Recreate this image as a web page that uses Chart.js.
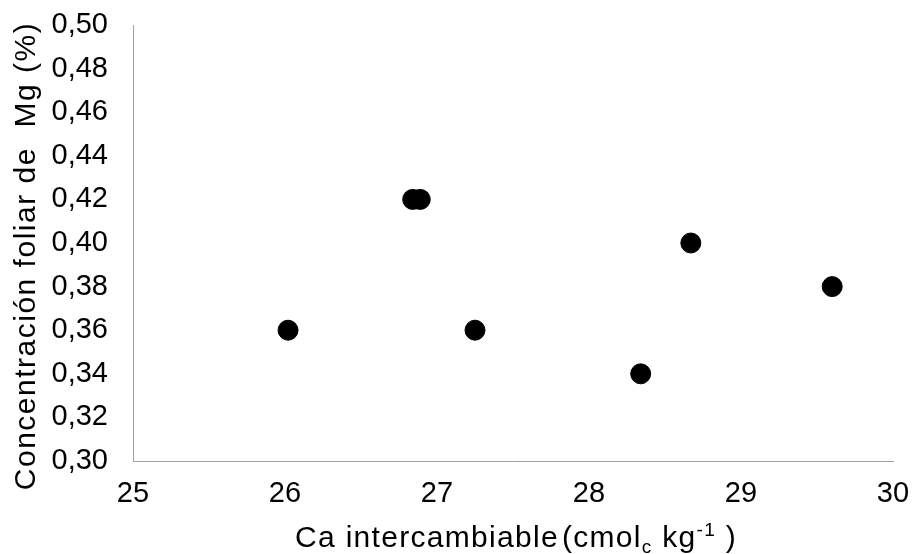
<!DOCTYPE html>
<html>
<head>
<meta charset="utf-8">
<script src="https://cdn.jsdelivr.net/npm/chart.js@4"></script>
<style>
  html, body { margin: 0; padding: 0; background: #fff; }
  #wrap { width: 913px; height: 554px; position: relative; }
</style>
</head>
<body>
<div id="wrap"><canvas id="c"></canvas></div>
<script>
// Data
const caValues = [26.02, 26.84, 26.89, 27.25, 28.34, 28.67, 29.6];
const mgValues = [0.36, 0.42, 0.42, 0.36, 0.34, 0.40, 0.38];
const xTitleMain = 'Ca intercambiable';
const xTitleUnit = ['(cmol', 'c', ' kg', '-1', ' )'];
const yTitle = 'Concentración foliar de  Mg (%)';
const xMin = 25, xMax = 30, xStep = 1;
const yMin = 0.30, yMax = 0.50, yStep = 0.02;

const points = caValues.map((x, i) => ({ x: x, y: mgValues[i] }));
const FONT = '"Liberation Sans", Arial, sans-serif';

const titlePlugin = {
  id: 'titles',
  afterDraw(chart) {
    const ctx = chart.ctx;
    const a = chart.chartArea;
    ctx.save();
    ctx.fillStyle = '#000';
    ctx.textBaseline = 'alphabetic';
    ctx.textAlign = 'left';
    try { ctx.letterSpacing = '1.3px'; } catch (e) {}
    // X title with subscript / superscript
    const big = '30px ' + FONT, small = '19px ' + FONT;
    const parts = [
      { t: xTitleMain, f: big, dy: 0, gap: 3 },
      { t: xTitleUnit[0], f: big, dy: 0 },
      { t: xTitleUnit[1], f: small, dy: 6 },
      { t: xTitleUnit[2], f: big, dy: 0 },
      { t: xTitleUnit[3], f: small, dy: -11 },
      { t: xTitleUnit[4], f: big, dy: 0 }
    ];
    let total = 0;
    parts.forEach(p => { ctx.font = p.f; p.w = ctx.measureText(p.t).width + (p.gap || 0); total += p.w; });
    let x = (a.left + a.right) / 2 + 3 - total / 2;
    const base = a.bottom + 86;
    parts.forEach(p => { ctx.font = p.f; ctx.fillText(p.t, x, base + p.dy); x += p.w; });
    // Y title rotated
    ctx.font = big;
    try { ctx.letterSpacing = '1.5px'; } catch (e) {}
    ctx.translate(a.left - 98, (a.top + a.bottom) / 2 + 13);
    ctx.rotate(-Math.PI / 2);
    ctx.textAlign = 'center';
    ctx.fillText(yTitle, 0, 0);
    ctx.restore();
  }
};

new Chart(document.getElementById('c'), {
  type: 'scatter',
  data: {
    datasets: [{
      data: points,
      backgroundColor: '#000',
      borderColor: '#000',
      borderWidth: 1,
      pointRadius: 10,
      pointHoverRadius: 10
    }]
  },
  options: {
    responsive: true,
    maintainAspectRatio: false,
    animation: false,
    layout: { padding: { top: 25, right: 20, left: 0, bottom: 0 } },
    plugins: { legend: { display: false }, tooltip: { enabled: false } },
    scales: {
      x: {
        type: 'linear',
        min: xMin, max: xMax,
        afterFit: s => { s.height = 93; s.paddingLeft = 0; s.paddingRight = 0; },
        grid: { display: false, drawTicks: false },
        border: { display: true, color: '#a0a0a0', width: 1 },
        ticks: {
          stepSize: xStep,
          padding: 16,
          color: '#000',
          font: { family: FONT, size: 29 },
          maxRotation: 0,
          callback: v => String(v)
        }
      },
      y: {
        type: 'linear',
        min: yMin, max: yMax,
        afterFit: s => { s.width = 133; s.paddingTop = 0; s.paddingBottom = 0; },
        grid: { display: false, drawTicks: false },
        border: { display: true, color: '#a0a0a0', width: 1 },
        ticks: {
          stepSize: yStep,
          padding: 25,
          color: '#000',
          font: { family: FONT, size: 29 },
          callback: v => v.toFixed(2).replace('.', ',')
        }
      }
    }
  },
  plugins: [titlePlugin]
});
</script>
</body>
</html>
